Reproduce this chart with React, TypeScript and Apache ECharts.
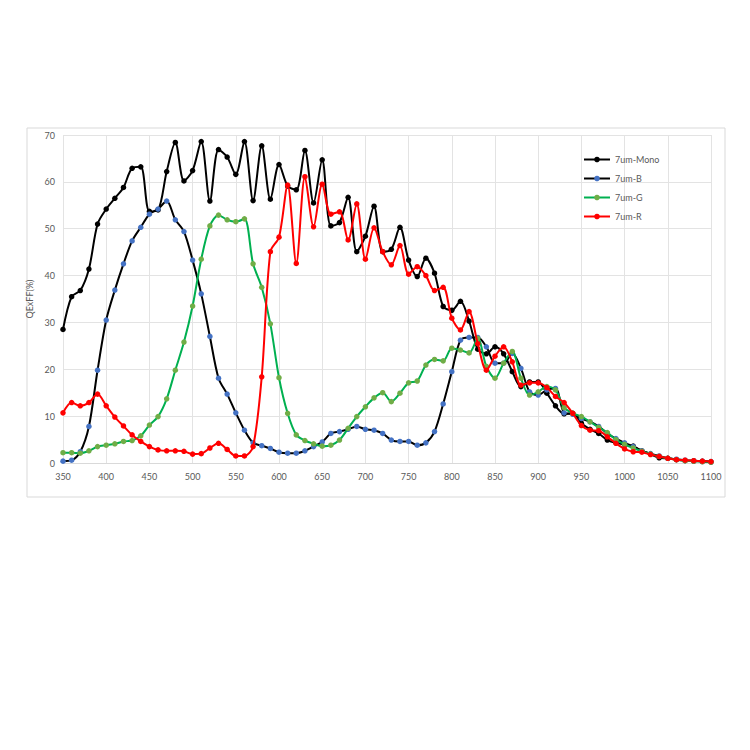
import React, { useEffect, useRef } from "react";
import * as echarts from "echarts";

const wavelengths: number[] = [];
for (let w = 350; w <= 1100; w += 10) wavelengths.push(w);

const xTicks = { min: 350, max: 1100, interval: 50 };
const yTicks = { min: 0, max: 70, interval: 10 };

const seriesNames = ["7um-Mono", "7um-B", "7um-G", "7um-R"];

const mono = [
  28.5, 35.5, 36.8, 41.4, 51.0, 54.2, 56.5, 58.8, 62.9, 63.2,
  53.7, 54.0, 62.2, 68.4, 60.2, 62.4, 68.6, 55.9, 66.9, 65.3,
  61.6, 68.6, 56.0, 67.7, 56.3, 63.7, 59.1, 58.3, 66.7, 55.5,
  64.7, 50.6, 51.3, 56.7, 45.1, 48.4, 54.8, 45.1, 45.6, 50.3,
  43.3, 39.8, 43.7, 40.5, 33.4, 32.6, 34.5, 30.3, 24.3, 23.3,
  24.8, 23.3, 19.5, 16.3, 17.3, 17.3, 14.9, 12.2, 10.5, 10.6,
  8.5, 7.2, 6.3, 4.9, 4.3, 3.9, 3.6, 2.6, 1.9, 1.1,
  1.0, 0.7, 0.5, 0.4, 0.3, 0.2,
];

const blue = [
  0.4, 0.6, 2.4, 7.8, 19.8, 30.5, 36.9, 42.5, 47.4, 50.3,
  53.1, 54.2, 55.9, 51.9, 49.4, 43.3, 36.1, 27.0, 18.1, 14.7,
  10.7, 7.0, 4.3, 3.7, 3.1, 2.3, 2.1, 2.1, 2.6, 3.5,
  4.5, 6.3, 6.7, 7.2, 7.8, 7.2, 7.0, 6.3, 4.9, 4.6,
  4.6, 3.8, 4.3, 6.7, 12.6, 19.5, 26.2, 26.8, 26.8, 24.8,
  21.3, 21.3, 23.4, 20.2, 15.2, 14.5, 15.6, 15.9, 10.7, 10.4,
  9.5, 8.8, 7.8, 6.3, 5.2, 4.3, 3.5, 2.6, 2.0, 1.5,
  1.0, 0.8, 0.6, 0.5, 0.4, 0.3,
];

const green = [
  2.2, 2.2, 2.1, 2.6, 3.5, 3.8, 4.1, 4.6, 4.8, 5.8,
  8.1, 9.9, 13.7, 19.8, 25.8, 33.5, 43.5, 50.6, 52.9, 51.9,
  51.5, 52.1, 42.5, 37.5, 29.7, 18.2, 10.6, 6.0, 4.8, 4.1,
  3.6, 3.8, 4.9, 7.4, 9.9, 12.0, 13.9, 15.0, 13.1, 14.9,
  17.1, 17.5, 20.9, 22.1, 21.8, 24.5, 24.1, 23.5, 26.6, 20.6,
  18.1, 21.3, 23.8, 18.1, 14.5, 15.2, 16.3, 15.6, 11.8, 10.6,
  9.9, 8.8, 7.6, 6.5, 5.0, 4.0, 3.2, 2.5, 1.9, 1.4,
  1.0, 0.7, 0.5, 0.4, 0.3, 0.2,
];

const red = [
  10.7, 12.9, 12.2, 12.9, 14.7, 12.2, 9.8, 7.9, 6.0, 4.6,
  3.5, 2.8, 2.6, 2.6, 2.5, 1.9, 2.0, 3.2, 4.2, 2.9,
  1.5, 1.5, 3.5, 18.4, 45.1, 48.2, 59.3, 42.6, 61.1, 50.4,
  59.5, 53.1, 53.6, 47.6, 55.3, 43.5, 50.2, 45.1, 42.3, 46.4,
  40.3, 41.9, 40.0, 36.8, 37.5, 30.9, 28.4, 32.3, 25.5, 19.8,
  22.8, 24.8, 21.6, 16.6, 17.1, 17.1, 16.1, 14.2, 12.9, 10.6,
  8.0, 7.0, 6.9, 5.6, 4.2, 3.0, 2.4, 2.3, 1.8, 1.4,
  1.0, 0.7, 0.6, 0.5, 0.4, 0.3,
];

const seriesValues = [mono, blue, green, red];
const lineColors = ["#000000", "#000000", "#00B050", "#FF0000"];
const markerColors = ["#000000", "#4472C4", "#70AD47", "#FF0000"];

export default function App() {
  const ref = useRef<HTMLDivElement>(null);
  useEffect(() => {
    if (!ref.current) return;
    const chart = echarts.init(ref.current, undefined, { renderer: "svg" });
    const font = "Lato, 'Noto Sans', sans-serif";
    chart.setOption({
      animation: false,
      backgroundColor: "#ffffff",
      textStyle: { fontFamily: font },
      graphic: [
        {
          type: "rect",
          shape: { x: 27, y: 128, width: 698, height: 369 },
          style: { fill: "none", stroke: "#d9d9d9", lineWidth: 1 },
          silent: true,
          z: -1,
        },
      ],
      grid: { left: 63, right: 39, top: 135, bottom: 287, containLabel: false },
      legend: {
        orient: "vertical",
        left: 578,
        top: 150,
        itemWidth: 26,
        itemHeight: 7,
        itemGap: 10,
        data: seriesNames,
        textStyle: { color: "#595959", fontSize: 9, fontFamily: font },
      },
      xAxis: {
        type: "value",
        min: xTicks.min,
        max: xTicks.max,
        interval: xTicks.interval,
        axisLine: { show: true, lineStyle: { color: "#d9d9d9" } },
        axisTick: { show: false },
        axisLabel: {
          color: "#595959",
          fontSize: 9,
          margin: 9,
          fontFamily: font,
          formatter: (v: number) => String(v),
        },
        splitLine: { show: true, lineStyle: { color: "#e3e3e3", width: 1 } },
      },
      yAxis: {
        type: "value",
        min: yTicks.min,
        max: yTicks.max,
        interval: yTicks.interval,
        name: "QExFF(%)",
        nameLocation: "middle",
        nameGap: 24,
        nameRotate: 90,
        nameTextStyle: { color: "#595959", fontSize: 9, fontFamily: font },
        axisLine: { show: false },
        axisTick: { show: false },
        axisLabel: { color: "#595959", fontSize: 9, margin: 8, fontFamily: font },
        splitLine: { show: true, lineStyle: { color: "#e3e3e3", width: 1 } },
      },
      series: seriesNames.map((name, i) => ({
        name,
        type: "line",
        smooth: 0.3,
        symbol: "circle",
        symbolSize: 5.5,
        data: wavelengths.map((w, j) => [w, seriesValues[i][j]]),
        lineStyle: { color: lineColors[i], width: 2 },
        itemStyle: { color: markerColors[i] },
        z: 2 + i,
      })),
    });
    return () => chart.dispose();
  }, []);
  return (
    <div
      ref={ref}
      style={{ position: "fixed", left: 0, top: 0, width: 750, height: 750 }}
    />
  );
}
